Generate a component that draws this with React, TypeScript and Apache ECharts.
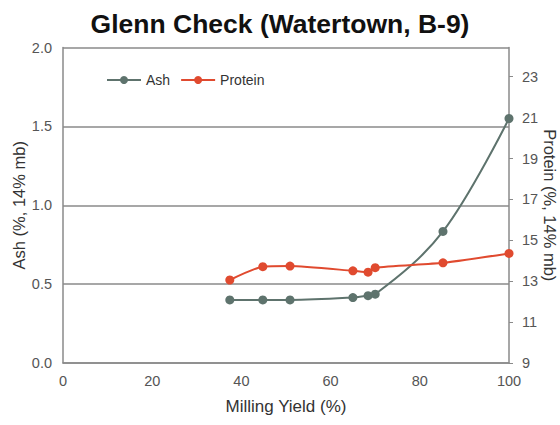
import React, { useEffect, useRef } from "react";
import * as echarts from "echarts";

const title = "Glenn Check (Watertown, B-9)";
const millingYield = [37.4, 44.8, 50.9, 65.0, 68.4, 70.0, 85.2, 100];
const ashValues = [0.4, 0.4, 0.4, 0.415, 0.427, 0.436, 0.834, 1.55];
const proteinValues = [13.06, 13.71, 13.74, 13.51, 13.44, 13.66, 13.9, 14.36];
const proteinTicks = [9, 11, 13, 15, 17, 19, 21, 23];
const xTicks = [0, 20, 40, 60, 80, 100];

const ASH_COLOR = "#5e736d";
const PROTEIN_COLOR = "#e04a2f";
const FONT = "Liberation Sans";

export default function App() {
  const ref = useRef<HTMLDivElement>(null);
  useEffect(() => {
    if (!ref.current) return;
    const chart = echarts.init(ref.current, undefined, { renderer: "svg" });
    const ashData = millingYield.map((x, i) => [x, ashValues[i]]);
    const proteinData = millingYield.map((x, i) => [x, proteinValues[i]]);
    chart.setOption({
      animation: false,
      backgroundColor: "#ffffff",
      textStyle: { fontFamily: FONT },
      title: {
        text: title,
        left: "center",
        top: 5,
        textStyle: { fontSize: 26.5, fontWeight: "bold", color: "#111", fontFamily: FONT },
      },
      legend: {
        left: 101,
        top: 68,
        itemWidth: 34,
        itemHeight: 10,
        itemGap: 10,
        textStyle: { fontSize: 14, color: "#333", fontFamily: FONT },
        data: ["Ash", "Protein"],
      },
      grid: {
        left: 63,
        right: 51,
        top: 47.5,
        bottom: 62,
        containLabel: false,
        outerBoundsMode: "none",
      },
      xAxis: {
        type: "value",
        min: 0,
        max: 100,
        interval: 20,
        name: "Milling Yield (%)",
        nameLocation: "middle",
        nameGap: 35,
        nameMoveOverlap: false,
        nameTextStyle: { fontSize: 17, color: "#333", fontFamily: FONT },
        axisLine: { show: true, lineStyle: { color: "#8a8a8a", width: 1.5 } },
        axisTick: { show: false },
        splitLine: { show: false },
        axisLabel: {
          color: "#555",
          fontSize: 14.5,
          margin: 10,
          customValues: xTicks,
        },
      },
      yAxis: [
        {
          type: "value",
          min: 0,
          max: 2,
          interval: 0.5,
          position: "left",
          name: "Ash (%, 14% mb)",
          nameLocation: "middle",
          nameGap: 36,
          nameMoveOverlap: false,
          nameRotate: 90,
          nameTextStyle: { fontSize: 16.5, color: "#333", fontFamily: FONT },
          axisLine: { show: true, lineStyle: { color: "#8a8a8a", width: 1.5 } },
          axisTick: { show: false },
          splitLine: { show: true, lineStyle: { color: "#8a8a8a", width: 1.5 } },
          axisLabel: {
            color: "#555",
            fontSize: 14.5,
            margin: 11,
            formatter: (v: number) => v.toFixed(1),
          },
        },
        {
          type: "value",
          min: 9,
          max: 24.43,
          position: "right",
          name: "Protein (%, 14% mb)",
          nameLocation: "middle",
          nameGap: 32,
          nameMoveOverlap: false,
          nameRotate: -90,
          nameTextStyle: { fontSize: 16.5, color: "#333", fontFamily: FONT },
          axisLine: { show: true, lineStyle: { color: "#8a8a8a", width: 1.5 } },
          axisTick: {
            show: true,
            inside: false,
            length: 4,
            lineStyle: { color: "#8a8a8a", width: 1 },
            customValues: proteinTicks,
          },
          splitLine: { show: false },
          axisLabel: {
            color: "#555",
            fontSize: 14.5,
            margin: 13,
            customValues: proteinTicks,
          },
        },
      ],
      series: [
        {
          name: "Ash",
          type: "line",
          yAxisIndex: 0,
          data: ashData,
          smooth: 0.35,
          symbol: "circle",
          symbolSize: 9,
          itemStyle: { color: ASH_COLOR },
          lineStyle: { color: ASH_COLOR, width: 2 },
          z: 3,
        },
        {
          name: "Protein",
          type: "line",
          yAxisIndex: 1,
          data: proteinData,
          smooth: 0.2,
          symbol: "circle",
          symbolSize: 9,
          itemStyle: { color: PROTEIN_COLOR },
          lineStyle: { color: PROTEIN_COLOR, width: 2 },
          z: 4,
        },
      ],
    });
    return () => chart.dispose();
  }, []);
  return <div ref={ref} style={{ width: 560, height: 425, position: "absolute", left: 0, top: 0 }} />;
}
